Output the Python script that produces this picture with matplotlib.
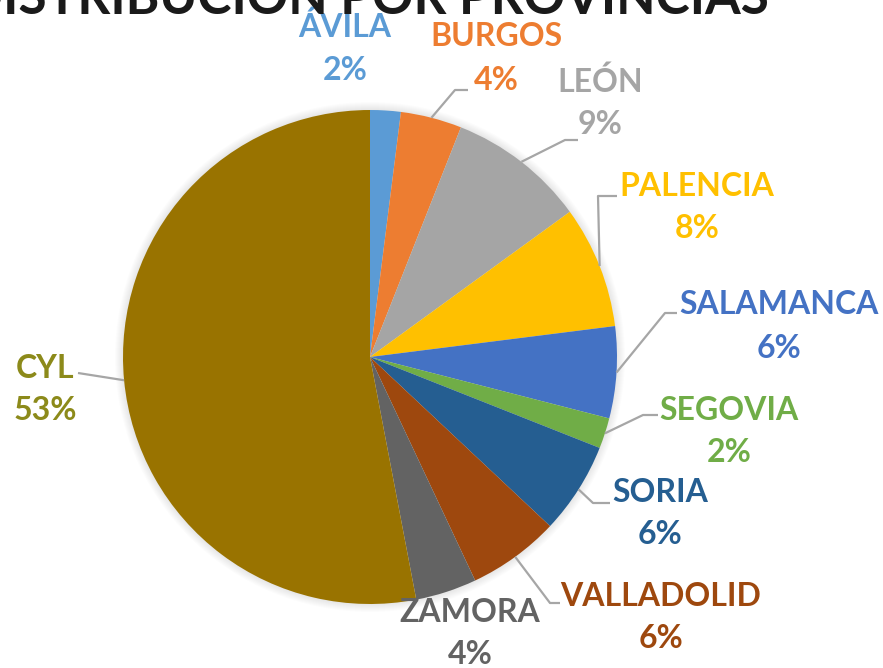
import matplotlib
matplotlib.use("Agg")
import matplotlib.pyplot as plt
import numpy as np

plt.rcParams['font.family'] = ['Lato', 'DejaVu Sans']

# data
provincias = ['ÁVILA', 'BURGOS', 'LEÓN', 'PALENCIA', 'SALAMANCA', 'SEGOVIA',
              'SORIA', 'VALLADOLID', 'ZAMORA', 'CYL']
porcentajes = [2, 4, 9, 8, 6, 2, 6, 6, 4, 53]
colores = ['#5B9BD5', '#ED7D31', '#A5A5A5', '#FFC000', '#4472C4', '#70AD47',
           '#255E91', '#9E480E', '#636363', '#997300']
color_texto = ['#5B9BD5', '#ED7D31', '#A5A5A5', '#FFC000', '#4472C4', '#70AD47',
               '#255E91', '#9E480E', '#636363', '#8C8A1A']

W, H = 883, 668
CX, CY, R = 370, 357, 247   # pie centre / radius in pixels (y from top)

# label positions (pixels, y from top) and leader elbows
label_pos = [(345, 27), (496, 37), (600, 82), (697, 186), (779, 305), (729, 410),
             (660, 492), (661, 596), (470, 612), (45, 368)]
elbows = [None, [(455, 90), (468, 90)], [(565, 140), (578, 140)],
          [(598, 196), (617, 196)], [(665, 313), (677, 313)],
          [(643, 415), (658, 415)], [(593, 503), (610, 503)],
          [(550, 603), (560, 603)], None, [(78, 373)]]

fig = plt.figure(figsize=(W / 100, H / 100), dpi=100)
ax = fig.add_axes([0, 0, 1, 1])

# soft shadow around the pie
for k in range(8):
    ax.add_patch(plt.Circle((CX, H - CY), R + 8 - k, color='#000000',
                            alpha=0.012, lw=0))

wedges, _ = ax.pie(porcentajes, colors=colores, startangle=90, counterclock=False,
                   center=(CX, H - CY), radius=R, frame=True,
                   wedgeprops=dict(linewidth=0))
ax.set_xlim(0, W)
ax.set_ylim(0, H)
ax.set_aspect('equal')
ax.axis('off')

for i, w in enumerate(wedges):
    lx, ly = label_pos[i]
    ax.text(lx, H - ly, provincias[i], color=color_texto[i], fontsize=23,
            fontweight='bold', ha='center', va='center')
    ax.text(lx, H - ly - 43, f'{porcentajes[i]}%', color=color_texto[i],
            fontsize=23, fontweight='bold', ha='center', va='center')
    if elbows[i] is not None:
        ang = np.deg2rad((w.theta1 + w.theta2) / 2)
        px = CX + R * np.cos(ang)
        py = (H - CY) + R * np.sin(ang)
        xs = [px] + [p[0] for p in elbows[i]]
        ys = [py] + [H - p[1] for p in elbows[i]]
        ax.plot(xs, ys, color='#A6A6A6', lw=1.6, solid_capstyle='butt')

fig.text(366 / W, 1 - 14 / H, 'DISTRIBUCIÓN POR PROVINCIAS', fontsize=37,
         fontweight='bold', color='#1a1a1a', ha='center', va='baseline')

fig.savefig('out.png', dpi=100, facecolor='white')
